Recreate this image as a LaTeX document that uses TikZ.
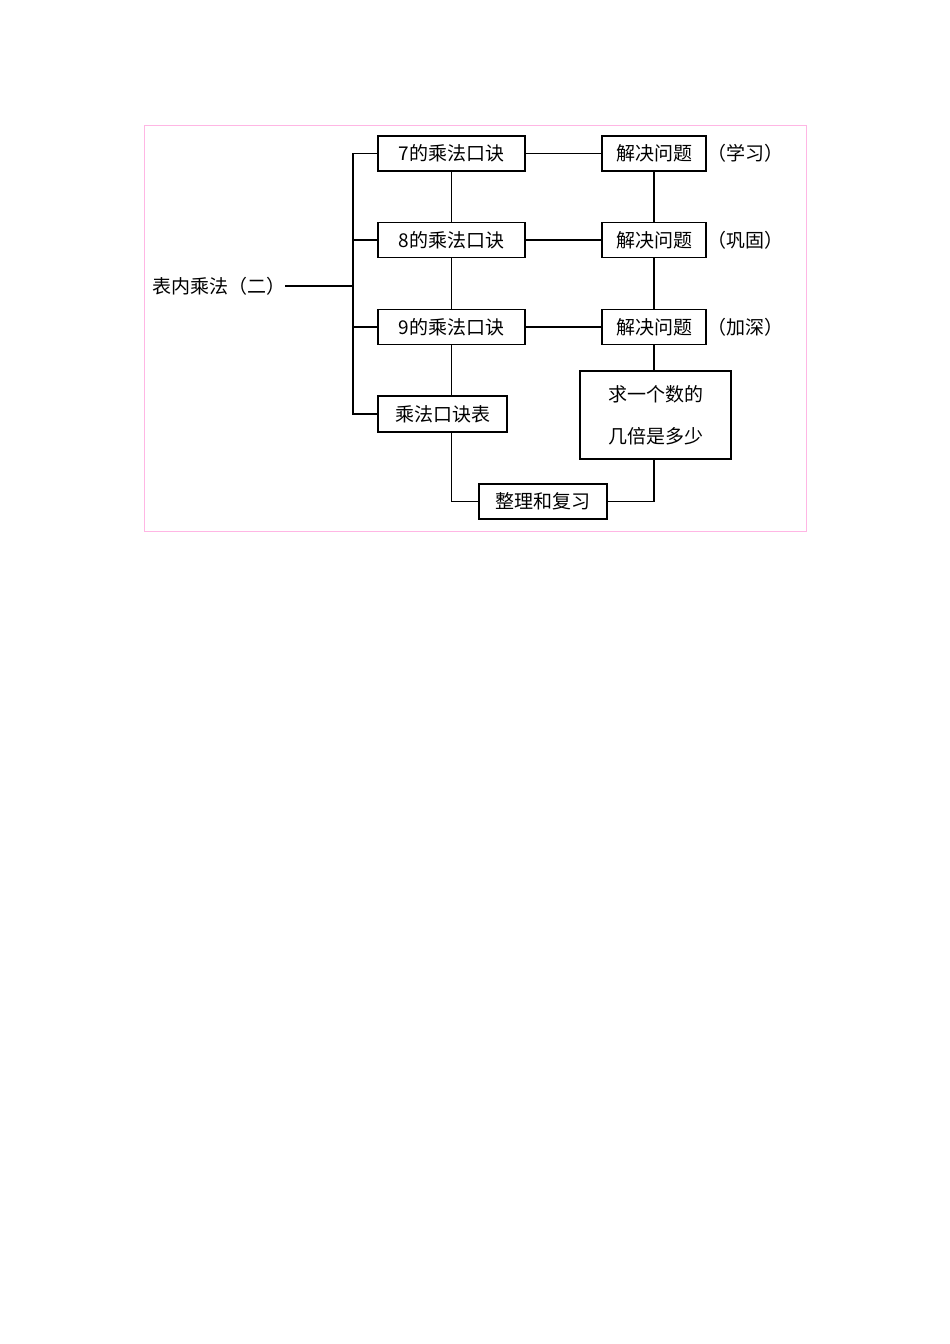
\documentclass[tikz,border=0pt]{standalone}
\usepackage{fontspec}
\newfontfamily\cjk{Noto Sans CJK SC}
\begin{document}
\begin{tikzpicture}[x=1pt,y=-1pt,
  bx/.style={draw,line width=1.2pt,inner sep=0pt,font=\cjk\fontsize{19}{22}\selectfont},
  ln/.style={line width=1.2pt},
  lb/.style={inner sep=0pt,font=\cjk\fontsize{19}{22}\selectfont}]
\useasboundingbox (0,0) rectangle (950,1344);
\draw[pink!70!magenta!60,line width=0.8pt] (144,125) rectangle (806,531);
\node[lb,anchor=west] (root) at (152,286) {表内乘法（二）};
\node[bx,minimum width=147,minimum height=35] (a1) at (451.5,153.5) {7的乘法口诀};
\node[bx,minimum width=147,minimum height=35] (a2) at (451.5,240) {8的乘法口诀};
\node[bx,minimum width=147,minimum height=35] (a3) at (451.5,327) {9的乘法口诀};
\node[bx,minimum width=129,minimum height=36] (a4) at (442.5,414) {乘法口诀表};
\node[bx,minimum width=104,minimum height=35] (b1) at (654,153.5) {解决问题};
\node[bx,minimum width=104,minimum height=35] (b2) at (654,240) {解决问题};
\node[bx,minimum width=104,minimum height=35] (b3) at (654,327) {解决问题};
\node[lb,anchor=west] (l1) at (707,153.5) {（学习）};
\node[lb,anchor=west] (l2) at (707,240) {（巩固）};
\node[lb,anchor=west] (l3) at (707,327) {（加深）};
\node[bx,minimum width=151,minimum height=88,align=center,font=\cjk\fontsize{19}{42}\selectfont] (c) at (655.5,415) {求一个数的\\几倍是多少};
\node[bx,minimum width=128,minimum height=35] (d) at (543,501.5) {整理和复习};
\coordinate (t) at (353,286);
\draw[ln] (root.east) -- (t);
\draw[ln] (a1.west) -| (353,414) -- (a4.west);
\draw[ln] (353,240) -- (a2.west);
\draw[ln] (353,327) -- (a3.west);
\draw[ln] (a1) -- (b1); \draw[ln] (a2) -- (b2); \draw[ln] (a3) -- (b3);
\draw[ln] (a1.south) -- (a2.north); \draw[ln] (a2.south) -- (a3.north);
\draw[ln] (a3.south) -- (a3.south |- a4.north);
\draw[ln] (a3.south |- a4.south) |- (d.west);
\draw[ln] (b1) -- (b2); \draw[ln] (b2) -- (b3);
\draw[ln] (b3.south) -- (b3.south |- c.north);
\draw[ln] (b3.south |- c.south) |- (d.east);
\end{tikzpicture}
\end{document}
